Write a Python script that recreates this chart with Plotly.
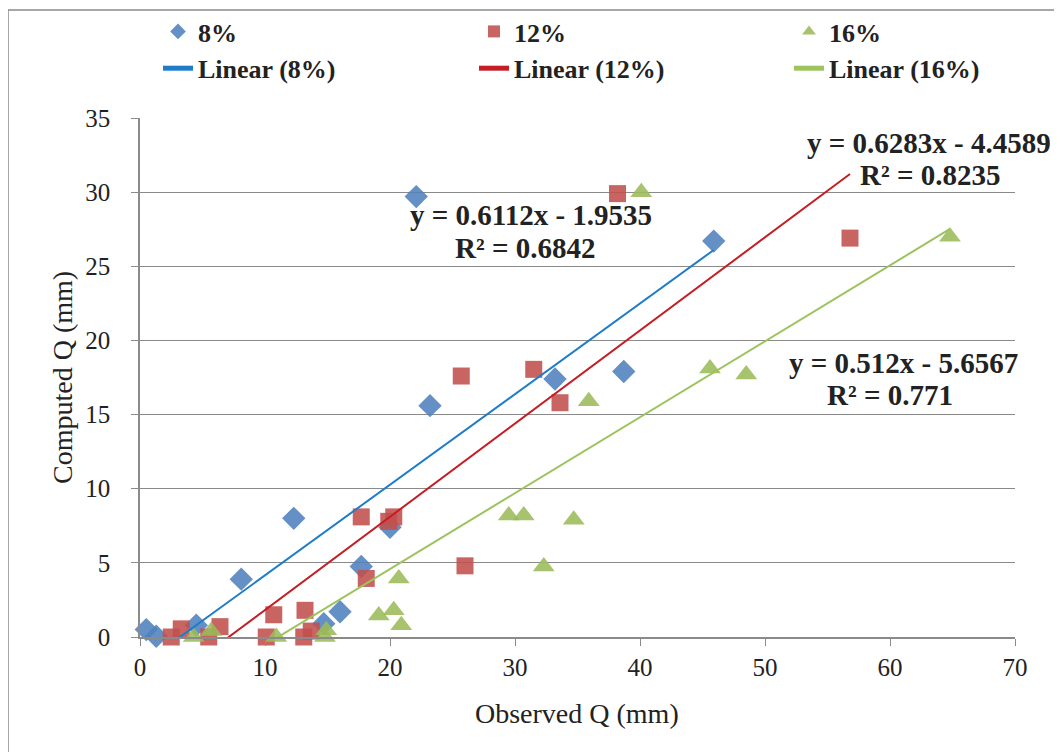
import plotly.graph_objects as go

# ---- data ----
obs_8 = [0.5, 1.3, 4.5, 8.1, 12.3, 14.7, 16.0, 17.7, 20.0, 22.1, 23.2, 33.2, 38.7, 45.9]
comp_8 = [0.5, 0.05, 0.8, 3.9, 8.0, 0.9, 1.7, 4.75, 7.4, 29.7, 15.6, 17.4, 17.9, 26.7]

obs_12 = [2.5, 3.3, 5.5, 6.4, 10.1, 10.7, 13.1, 13.2, 13.7, 17.7, 18.1, 19.9, 20.3,
          25.7, 26.0, 31.5, 33.6, 38.2, 56.8]
comp_12 = [0.0, 0.55, 0.0, 0.7, 0.0, 1.5, 0.0, 1.8, 0.4, 8.1, 3.95, 7.8, 8.1,
           17.6, 4.8, 18.05, 15.8, 29.9, 26.9]

obs_16 = [4.3, 5.7, 10.9, 14.8, 14.9, 19.1, 20.3, 20.7, 20.9, 29.5, 30.7, 32.3, 34.7,
          35.9, 40.1, 45.6, 48.5, 64.8]
comp_16 = [0.0, 0.4, 0.0, 0.0, 0.45, 1.45, 1.8, 3.95, 0.8, 8.2, 8.2, 4.75, 7.9,
           15.9, 30.0, 18.1, 17.7, 27.0]

series_names = ["8%", "12%", "16%"]
slopes = [0.6112, 0.6283, 0.512]
intercepts = [-1.9535, -4.4589, -5.6567]
r2_values = ["0.6842", "0.8235", "0.771"]
eq_texts = ["y = 0.6112x - 1.9535", "y = 0.6283x - 4.4589", "y = 0.512x - 5.6567"]

x_ticks = [0, 10, 20, 30, 40, 50, 60, 70]
y_ticks = [0, 5, 10, 15, 20, 25, 30, 35]

# ---- styling ----
marker_colors = ["#4F81BD", "#C0504D", "#9BBB59"]
line_colors = ["#1F7CC8", "#C41E24", "#9CC35C"]
symbols = ["diamond", "square", "triangle-up"]
sizes = [18, 17, 19]
FONT = "Liberation Serif"
TXT = "#222222"
GRAY = "#8A8A8A"

fig = go.Figure()
xs = [obs_8, obs_12, obs_16]
ys = [comp_8, comp_12, comp_16]
legends = ["legend", "legend2", "legend3"]

for i in range(3):
    fig.add_trace(go.Scatter(
        x=xs[i], y=ys[i], mode="markers", name=series_names[i],
        marker=dict(symbol=symbols[i], size=sizes[i], color=marker_colors[i],
                    opacity=0.88, line=dict(width=0)),
        cliponaxis=False, legend=legends[i]))
for i in range(3):
    x0, x1 = min(xs[i]), max(xs[i])
    fig.add_trace(go.Scatter(
        x=[x0, x1], y=[slopes[i] * x0 + intercepts[i], slopes[i] * x1 + intercepts[i]],
        mode="lines", name=f"Linear ({series_names[i]})",
        line=dict(color=line_colors[i], width=2), legend=legends[i]))

# equation annotations (two separate lines each)
eq_line1_pos = [(31.3, 28.45), (63.1, 33.3), (61.1, 18.45)]
eq_line2_pos = [(30.8, 26.25), (63.2, 31.15), (60.0, 16.3)]
for i in range(3):
    fig.add_annotation(
        x=eq_line1_pos[i][0], y=eq_line1_pos[i][1], xref="x", yref="y",
        xanchor="center", yanchor="middle",
        text=eq_texts[i], showarrow=False,
        font=dict(family=FONT, size=29, color=TXT, weight="bold"))
    fig.add_annotation(
        x=eq_line2_pos[i][0], y=eq_line2_pos[i][1], xref="x", yref="y",
        xanchor="center", yanchor="middle",
        text=f"R² = {r2_values[i]}", showarrow=False,
        font=dict(family=FONT, size=29, color=TXT, weight="bold"))

# axis titles
fig.add_annotation(x=(577 - 140) / 875, y=(637 - 713) / 519, xref="paper", yref="paper",
                   xanchor="center", yanchor="middle",
                   text="Observed Q (mm)", showarrow=False,
                   font=dict(family=FONT, size=28, color=TXT))
fig.add_annotation(x=(62 - 140) / 875, y=(637 - 378) / 519, xref="paper", yref="paper",
                   xanchor="center", yanchor="middle",
                   text="Computed Q (mm)", showarrow=False, textangle=-90,
                   font=dict(family=FONT, size=28, color=TXT))

legend_common = dict(
    xref="container", yref="container", yanchor="top", xanchor="left",
    orientation="v", bgcolor="rgba(0,0,0,0)", borderwidth=0,
    font=dict(family=FONT, size=26, color=TXT, weight="bold"),
    itemsizing="constant", tracegroupgap=0, y=1.0)

fig.update_layout(
    width=1062, height=752,
    paper_bgcolor="white", plot_bgcolor="white",
    margin=dict(l=132, r=55, t=110, b=123, autoexpand=False),
    showlegend=True,
    legend=dict(**legend_common, x=150 / 1062),
    legend2=dict(**legend_common, x=466 / 1062),
    legend3=dict(**legend_common, x=781 / 1062),
    xaxis=dict(range=[0, 70], tickvals=x_ticks, showgrid=False, showline=True,
               linecolor=GRAY, linewidth=1.5, ticks="outside", ticklen=7,
               tickcolor=GRAY, zeroline=False, ticklabelstandoff=0,
               tickfont=dict(family=FONT, size=25, color=TXT)),
    yaxis=dict(range=[0, 35], tickvals=y_ticks, showgrid=True, gridcolor=GRAY,
               gridwidth=1.3, showline=True, linecolor=GRAY, linewidth=1.5,
               ticks="outside", ticklen=7, tickcolor=GRAY, zeroline=False,
               ticklabelstandoff=16,
               tickfont=dict(family=FONT, size=25, color=TXT)),
)

# outer chart border (partially visible at top/left in the reference)
fig.add_shape(type="rect", xref="paper", yref="paper",
              x0=(8 - 140) / 875, x1=1.2, y0=-0.5, y1=(637 - 10) / 519,
              line=dict(color=GRAY, width=1.5), layer="below")

fig.write_html("out.html")
